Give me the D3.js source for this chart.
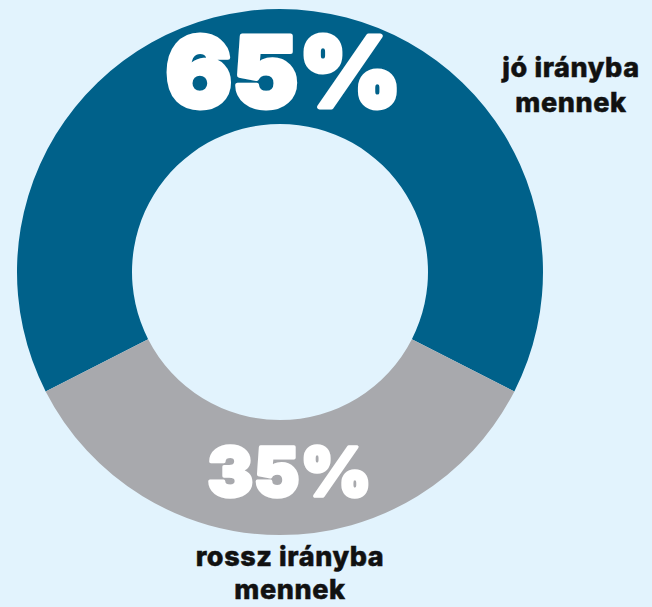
<!DOCTYPE html>
<html>
<head>
<meta charset="utf-8">
<script src="https://cdn.jsdelivr.net/npm/d3@7"></script>
<style>
  html, body { margin: 0; padding: 0; background: #e2f3fd; }
  svg { display: block; }
</style>
</head>
<body>
<svg id="chart" width="652" height="607"></svg>
<script>
const categories = ["jó irányba mennek", "rossz irányba mennek"];
const values = [65, 35];
const valueLabels = ["65%", "35%"];
const labelLines = [["jó irányba", "mennek"], ["rossz irányba", "mennek"]];
const colors = ["#00618a", "#a8a9ad"];

const svg = d3.select("#chart");
const W = 652, H = 607;
svg.append("rect").attr("width", W).attr("height", H).attr("fill", "#e2f3fd");

const cx = 280, cy = 272, outerR = 263, innerR = 148;
const total = d3.sum(values);
const startA = -Math.PI * values[0] / total;

const pie = d3.pie().sort(null).value(d => d)
  .startAngle(startA).endAngle(startA + 2 * Math.PI);
const arc = d3.arc().innerRadius(innerR).outerRadius(outerR);

const g = svg.append("g").attr("transform", `translate(${cx},${cy})`);
g.selectAll("path").data(pie(values)).join("path")
  .attr("d", arc)
  .attr("fill", (d, i) => colors[i]);

// big percentage labels
const bigPos = [{x: 284, y: 107, size: 98, sw: 5}, {x: 290, y: 496, size: 68, sw: 3.5}];
svg.selectAll("text.big").data(valueLabels).join("text")
  .attr("class", "big")
  .attr("x", (d, i) => bigPos[i].x)
  .attr("y", (d, i) => bigPos[i].y)
  .attr("text-anchor", "middle")
  .attr("font-family", "Inter, 'Noto Sans', sans-serif")
  .attr("font-weight", 900)
  .attr("font-size", (d, i) => bigPos[i].size)
  .attr("letter-spacing", 1)
  .attr("fill", "#ffffff")
  .attr("stroke", "#ffffff")
  .attr("stroke-width", (d, i) => bigPos[i].sw)
  .attr("stroke-linejoin", "round")
  .text(d => d);

// category labels
const catPos = [{x: 571, y: 77, dy: 35}, {x: 290, y: 566, dy: 33}];
labelLines.forEach((lines, i) => {
  lines.forEach((ln, j) => {
    svg.append("text")
      .attr("x", catPos[i].x)
      .attr("y", catPos[i].y + j * catPos[i].dy)
      .attr("text-anchor", "middle")
      .attr("font-family", "Inter, 'Noto Sans', sans-serif")
      .attr("font-weight", 800)
      .attr("font-size", 27)
      .attr("letter-spacing", 0.6)
      .attr("fill", "#111111")
      .attr("stroke", "#111111")
      .attr("stroke-width", 0.5)
      .text(ln);
  });
});
</script>
</body>
</html>
